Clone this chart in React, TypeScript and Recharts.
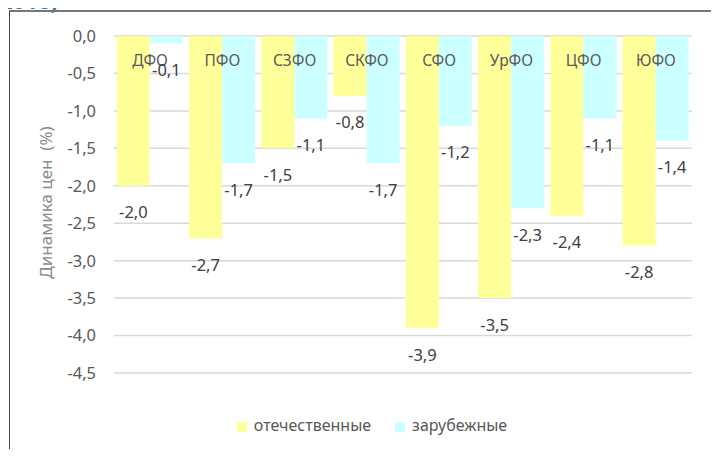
import React from 'react';
import { Bar, BarChart, CartesianGrid, LabelList, Legend, XAxis, YAxis } from 'recharts';

const regions = ['ДФО', 'ПФО', 'СЗФО', 'СКФО', 'СФО', 'УрФО', 'ЦФО', 'ЮФО'];
const domestic = [-2.0, -2.7, -1.5, -0.8, -3.9, -3.5, -2.4, -2.8];
const foreign = [-0.1, -1.7, -1.1, -1.7, -1.2, -2.3, -1.1, -1.4];
const yTicks = [0, -0.5, -1, -1.5, -2, -2.5, -3, -3.5, -4, -4.5];

const data = regions.map((name, i) => ({ name, domestic: domestic[i], foreign: foreign[i] }));

const FONT = '"Noto Sans", "Open Sans", sans-serif';
const fmt = (v: number) => v.toFixed(1).replace('.', ',');
const seriesOrder: Record<string, number> = { domestic: 0, foreign: 1 };

const ValueLabel = (props: any) => {
    const { x, y, width, height, value } = props;
    const bottom = Math.max(y, y + height);
    return (
        <text x={x + width / 2} y={bottom + 26} textAnchor="middle" dominantBaseline="central"
            fontSize={16.5} fill="#404040" fontFamily={FONT}>
            {fmt(value)}
        </text>
    );
};

const AxisTitle = (props: any) => {
    const { viewBox } = props;
    const cx = viewBox.x + 35;
    const cy = viewBox.y + viewBox.height / 2 - 2;
    return (
        <text x={cx} y={cy} transform={`rotate(-90, ${cx}, ${cy})`} textAnchor="middle"
            dominantBaseline="central" fontSize={17} fill="#8c8c8c" fontFamily={FONT}>
            {'Динамика цен\u00a0 (%)'}
        </text>
    );
};

const App = () => {
    return (
        <div style={{ position: 'relative', width: 719, height: 457, margin: -8, overflow: 'hidden', background: '#fff' }}>
            <div style={{ position: 'absolute', left: 0, top: -11, color: '#2E74B5', fontWeight: 'bold', fontSize: 22, lineHeight: '22px', fontFamily: FONT }}>
                2016)
            </div>
            <div style={{ position: 'absolute', left: 9, top: 10, right: -20, bottom: -20, borderLeft: '1.5px solid #444', borderTop: '2px solid #777' }} />
            <div style={{ position: 'absolute', left: 0, top: 0 }}>
                <BarChart width={719} height={457} data={data} barCategoryGap="4%" barGap={0}
                    margin={{ top: 36, right: 27, bottom: 84, left: 10 }}>
                    <CartesianGrid vertical={false} stroke="#d9d9d9" strokeWidth={1.5} />
                    <XAxis dataKey="name" orientation="top" mirror axisLine={false} tickLine={false}
                        tickSize={0} tickMargin={19} interval={0}
                        tick={{ fontSize: 15.5, fill: '#595959', fontFamily: FONT }} />
                    <YAxis domain={[-4.5, 0]} ticks={yTicks} width={104} axisLine={false} tickLine={false}
                        tickSize={0} tickMargin={18} tickFormatter={fmt} interval={0}
                        tick={{ fontSize: 16.5, fill: '#595959', fontFamily: FONT }}
                        label={<AxisTitle />} />
                    <Legend verticalAlign="middle" align="center" iconType="square" iconSize={10}
                        itemSorter={(item: any) => seriesOrder[item.dataKey]}
                        wrapperStyle={{ top: 414, left: 37, width: 694, fontFamily: FONT, fontSize: 16 }}
                        formatter={(value) => <span style={{ color: '#595959', marginLeft: 3, marginRight: 14 }}>{value}</span>} />
                    <Bar dataKey="domestic" name="отечественные" fill="#FFFF99" isAnimationActive={false}>
                        <LabelList dataKey="domestic" content={<ValueLabel />} />
                    </Bar>
                    <Bar dataKey="foreign" name="зарубежные" fill="#CCFFFF" isAnimationActive={false}>
                        <LabelList dataKey="foreign" content={<ValueLabel />} />
                    </Bar>
                </BarChart>
            </div>
        </div>
    );
};

export default App;
